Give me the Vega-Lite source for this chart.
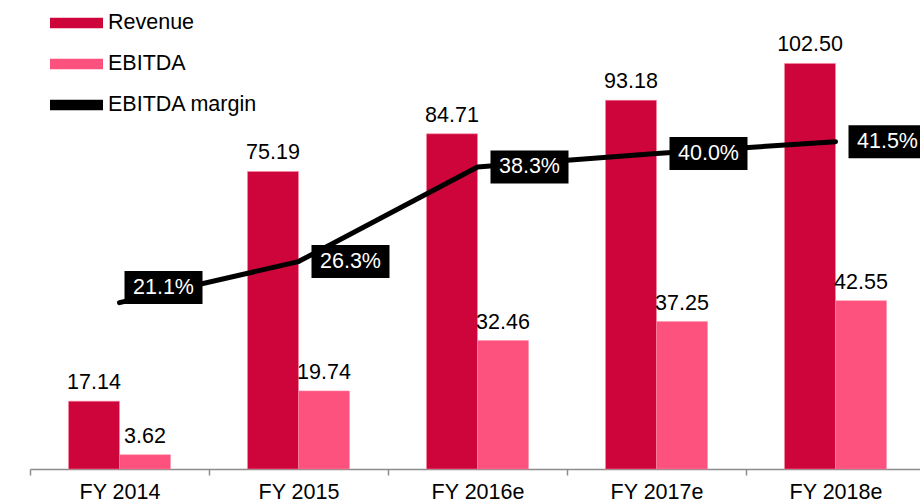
{
  "$schema": "https://vega.github.io/schema/vega-lite/v6.json",
  "autosize": {"type": "none"},
  "padding": {"left": 30, "top": 10, "right": 0, "bottom": 35},
  "width": 895,
  "height": 459,
  "background": "white",
  "config": {"view": {"stroke": null}, "font": "Liberation Sans"},
  "datasets": {
    "bars": [
      {"year": "FY 2014", "series": "Revenue", "value": 17.14},
      {"year": "FY 2014", "series": "EBITDA", "value": 3.62},
      {"year": "FY 2015", "series": "Revenue", "value": 75.19},
      {"year": "FY 2015", "series": "EBITDA", "value": 19.74},
      {"year": "FY 2016e", "series": "Revenue", "value": 84.71},
      {"year": "FY 2016e", "series": "EBITDA", "value": 32.46},
      {"year": "FY 2017e", "series": "Revenue", "value": 93.18},
      {"year": "FY 2017e", "series": "EBITDA", "value": 37.25},
      {"year": "FY 2018e", "series": "Revenue", "value": 102.50},
      {"year": "FY 2018e", "series": "EBITDA", "value": 42.55}
    ],
    "margins": [
      {"year": "FY 2014", "margin": 0.211},
      {"year": "FY 2015", "margin": 0.263},
      {"year": "FY 2016e", "margin": 0.383},
      {"year": "FY 2017e", "margin": 0.400},
      {"year": "FY 2018e", "margin": 0.415}
    ]
  },
  "encoding": {
    "x": {
      "field": "year", "type": "nominal", "sort": null,
      "scale": {"domain": ["FY 2014", "FY 2015", "FY 2016e", "FY 2017e", "FY 2018e"], "paddingInner": 0, "paddingOuter": 0},
      "axis": {
        "title": null, "labelAngle": 0, "tickBand": "extent",
        "domainColor": "#8c8c8c", "domainWidth": 1.5, "tickColor": "#8c8c8c", "tickWidth": 1.5, "tickSize": 6,
        "labelFontSize": 21.5, "labelColor": "black", "labelPadding": 6, "labelFont": "Liberation Sans"
      }
    }
  },
  "layer": [
    {
      "data": {"name": "bars"},
      "layer": [
        {
          "mark": {"type": "bar", "stroke": "#ff8aa6", "strokeWidth": 0.5},
          "encoding": {
            "xOffset": {"field": "series", "type": "nominal", "scale": {"domain": ["Revenue", "EBITDA"], "paddingInner": 0, "paddingOuter": 0.755}},
            "y": {"field": "value", "type": "quantitative", "scale": {"domain": [0, 116], "nice": false}, "axis": null},
            "color": {
              "field": "series", "type": "nominal",
              "scale": {"domain": ["Revenue", "EBITDA", "EBITDA margin"], "range": ["#CE053B", "#FE527E", "#000000"]},
              "legend": {
                "orient": "none", "legendX": 20, "legendY": 3, "title": null, "padding": 0,
                "symbolType": "M-1,-0.2H1V0.2H-1Z", "symbolSize": 2809, "symbolStrokeWidth": 0,
                "clipHeight": 20, "rowPadding": 19,
                "labelFontSize": 21.5, "labelFont": "Liberation Sans", "labelColor": "black", "labelOffset": 5,
                "encode": {"symbols": {"update": {"shape": {"signal": "datum.value === 'EBITDA margin' ? 'M-1,-0.09H1V0.09H-1Z' : 'M-1,-0.2H1V0.2H-1Z'"}, "opacity": {"value": 1}}}}
              }
            }
          }
        },
        {
          "mark": {"type": "text", "fontSize": 21.5, "font": "Liberation Sans", "color": "black", "baseline": "alphabetic", "dy": -12},
          "encoding": {
            "xOffset": {"field": "series", "type": "nominal"},
            "y": {"field": "value", "type": "quantitative"},
            "text": {"field": "value", "type": "quantitative", "format": ".2f"}
          }
        }
      ]
    },
    {
      "data": {"name": "margins"},
      "layer": [
        {
          "mark": {"type": "line", "color": "black", "strokeWidth": 5, "strokeCap": "round", "strokeJoin": "round"},
          "encoding": {
            "y": {"field": "margin", "type": "quantitative", "scale": {"domain": [0, 0.582], "nice": false}, "axis": null}
          }
        },
        {
          "mark": {"type": "point", "shape": "M-1,-0.423H1V0.423H-1Z", "size": 6084, "filled": true, "color": "black", "opacity": 1, "xOffset": {"expr": "datum.year === 'FY 2014' ? 44 : 52"}, "yOffset": {"expr": "datum.year === 'FY 2014' ? -15 : 0"}},
          "encoding": {
            "y": {"field": "margin", "type": "quantitative"}
          }
        },
        {
          "mark": {"type": "text", "fontSize": 21.5, "font": "Liberation Sans", "color": "white", "baseline": "middle", "align": "center", "xOffset": {"expr": "datum.year === 'FY 2014' ? 44 : 52"}, "yOffset": {"expr": "datum.year === 'FY 2014' ? -15 : 0"}},
          "encoding": {
            "y": {"field": "margin", "type": "quantitative"},
            "text": {"field": "margin", "type": "quantitative", "format": ".1%"}
          }
        }
      ]
    }
  ],
  "resolve": {"scale": {"y": "independent"}}
}
